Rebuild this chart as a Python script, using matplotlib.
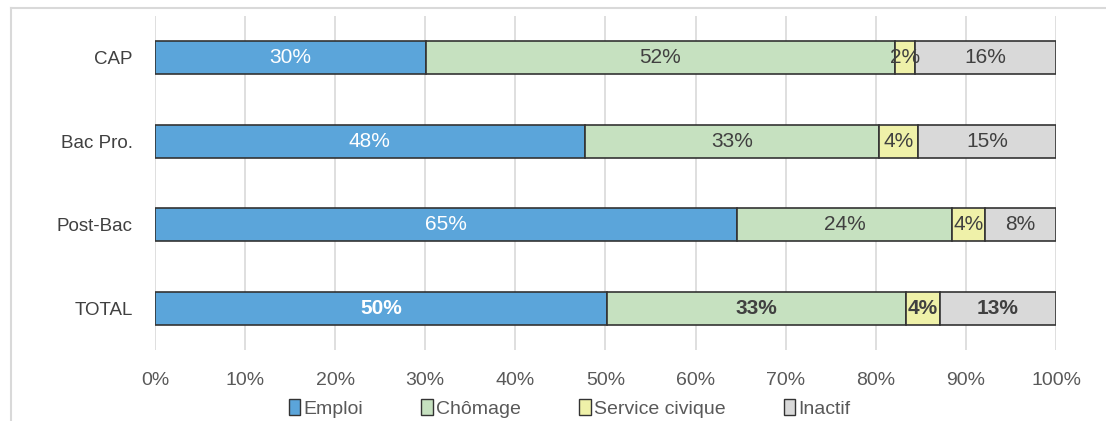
import matplotlib
matplotlib.use('Agg')
import matplotlib.pyplot as plt
import numpy as np
from matplotlib import font_manager
from matplotlib.lines import Line2D
from matplotlib.patches import Patch

# data (shares in %)
categories = ['CAP', 'Bac Pro.', 'Post-Bac', 'TOTAL']
series = ['Emploi', 'Chômage', 'Service civique', 'Inactif']
emploi = [30.1, 47.7, 64.6, 50.2]
chomage = [52.0, 32.7, 23.9, 33.2]
service = [2.3, 4.3, 3.6, 3.7]
inactif = [15.6, 15.3, 7.9, 12.9]
labels = [
    ['30%', '48%', '65%', '50%'],
    ['52%', '33%', '24%', '33%'],
    ['2%', '4%', '4%', '4%'],
    ['16%', '15%', '8%', '13%'],
]
colors = ['#5BA5DA', '#C6E1C0', '#EFF1A9', '#D9D9D9']
text_colors = ['white', '#404040', '#404040', '#404040']

names = {f.name for f in font_manager.fontManager.ttflist}
narrow = 'Liberation Sans Narrow' if 'Liberation Sans Narrow' in names else 'Liberation Sans'

fig = plt.figure(figsize=(11.06, 4.21), dpi=100)
ax = fig.add_axes([0.1401, 0.1686, 0.8147, 0.7934])

values = [emploi, chomage, service, inactif]
y = np.arange(len(categories))
left = np.zeros(len(categories))
for i, vals in enumerate(values):
    ax.barh(y, vals, left=left, height=0.39, color=colors[i],
            edgecolor='#333333', linewidth=1.2, zorder=3)
    for j, v in enumerate(vals):
        bold = categories[j] == 'TOTAL'
        ax.text(left[j] + v / 2, y[j], labels[i][j], ha='center', va='center',
                color=text_colors[i], fontsize=15, family='Liberation Sans',
                fontweight='bold' if bold else 'normal', zorder=4)
    left += np.array(vals)

ax.set_xlim(0, 100)
ax.set_ylim(3.5, -0.5)
ax.set_yticks(y)
ax.set_yticklabels(categories, family='Liberation Sans', fontsize=13.5, color='#404040')
ax.set_xticks(np.arange(0, 101, 10))
ax.set_xticklabels([f'{t}%' for t in range(0, 101, 10)], family=narrow,
                   fontsize=14, color='#595959')
ax.tick_params(axis='x', length=0, pad=16)
ax.tick_params(axis='y', length=0, pad=16)
ax.grid(axis='x', color='#D9D9D9', linewidth=1.2, zorder=0)
ax.set_axisbelow(True)
for s in ax.spines.values():
    s.set_visible(False)

handles = [Patch(facecolor=c, edgecolor='#333333', linewidth=1.0) for c in colors]
leg = fig.legend(handles, series, loc='center', bbox_to_anchor=(0.515, 0.03),
                 ncol=4, frameon=False, handlelength=0.6, handleheight=0.9,
                 handletextpad=0.15, columnspacing=3.0,
                 prop={'family': narrow, 'size': 14})
for t in leg.get_texts():
    t.set_color('#595959')

# outer chart frame (left and top edges)
fig.add_artist(Line2D([0.010, 0.010], [0.0, 0.981], color='#D9D9D9', linewidth=1.5))
fig.add_artist(Line2D([0.010, 1.0], [0.981, 0.981], color='#D9D9D9', linewidth=1.5))

fig.savefig('out.png', dpi=100)
